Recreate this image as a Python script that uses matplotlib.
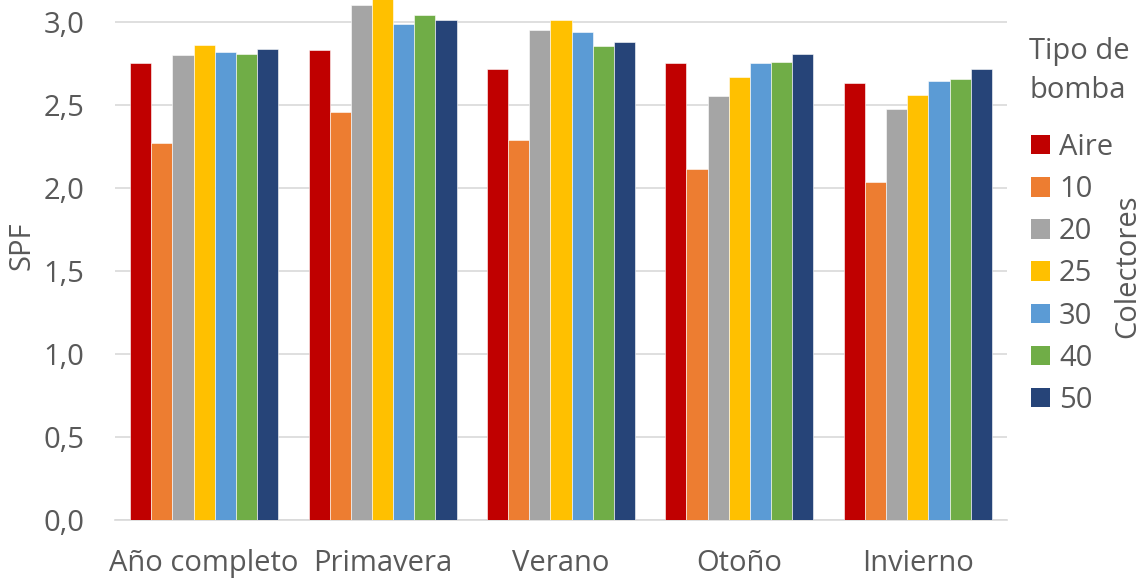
import numpy as np
import matplotlib.pyplot as plt
from matplotlib.patches import Patch

plt.rcParams['font.family'] = ['Open Sans', 'DejaVu Sans']

# datos
estaciones = ['Año completo', 'Primavera', 'Verano', 'Otoño', 'Invierno']
series = ['Aire', '10', '20', '25', '30', '40', '50']
aire = [2.755, 2.83, 2.717, 2.753, 2.634]
col10 = [2.273, 2.456, 2.289, 2.114, 2.038]
col20 = [2.80, 3.104, 2.954, 2.554, 2.474]
col25 = [2.863, 3.17, 3.014, 2.669, 2.562]
col30 = [2.817, 2.99, 2.942, 2.751, 2.645]
col40 = [2.81, 3.042, 2.857, 2.761, 2.655]
col50 = [2.835, 3.01, 2.881, 2.805, 2.715]
valores = [aire, col10, col20, col25, col30, col40, col50]
colores = ['#C00000', '#ED7D31', '#A5A5A5', '#FFC000', '#5B9BD5', '#70AD47', '#264478']

gris = '#595959'
fs = 21

fig = plt.figure(figsize=(11.46, 5.84), dpi=100)
ax = fig.add_axes([0.1003, 0.1096, 0.7784, 0.8904])

x = np.arange(len(estaciones))
ancho = 0.83 / len(series)
for i, (nombre, vals, c) in enumerate(zip(series, valores, colores)):
    pos = x - 0.415 + ancho * (i + 0.5)
    ax.bar(pos, vals, width=ancho, color=c, edgecolor='white', linewidth=0.4,
           label=nombre, zorder=3)

ax.set_xlim(-0.5, len(estaciones) - 0.5)
ax.set_ylim(0, 3.133)
ax.set_yticks(np.arange(0, 3.01, 0.5))
ax.set_yticklabels([f'{v:.1f}'.replace('.', ',') for v in np.arange(0, 3.01, 0.5)])
ax.set_xticks(x)
ax.set_xticklabels(estaciones)
ax.tick_params(axis='both', length=0, labelsize=fs, colors=gris)
ax.tick_params(axis='x', pad=21)
ax.tick_params(axis='y', pad=22)
ax.grid(axis='y', color='#D9D9D9', linewidth=1.2, zorder=0)
for s in ['top', 'right', 'left']:
    ax.spines[s].set_visible(False)
ax.spines['bottom'].set_color('#D9D9D9')
ax.spines['bottom'].set_linewidth(1.2)
ax.set_ylabel('SPF', fontsize=fs, color=gris)
ax.yaxis.set_label_coords(-0.104, 0.527)
ax.yaxis.label.set_va('center')

# título de la leyenda
fig.text(1029 / 1146, 1 - 51 / 584, 'Tipo de', fontsize=fs, color=gris, va='center')
fig.text(1029 / 1146, 1 - 91 / 584, 'bomba', fontsize=fs, color=gris, va='center')

handles = [Patch(facecolor=c) for c in colores]
leg = fig.legend(handles, series, loc='upper left', bbox_to_anchor=(1031 / 1146, 1 - 133 / 584),
                 frameon=False, fontsize=fs, handlelength=0.65, handleheight=0.65,
                 handletextpad=0.31, labelspacing=0.45, borderaxespad=0, borderpad=0)
plt.setp(leg.get_texts(), color=gris)

fig.text(1128 / 1146, 1 - 266 / 584, 'Colectores', rotation=90, fontsize=fs, color=gris,
         ha='center', va='center')

fig.savefig('out.png', dpi=100)
